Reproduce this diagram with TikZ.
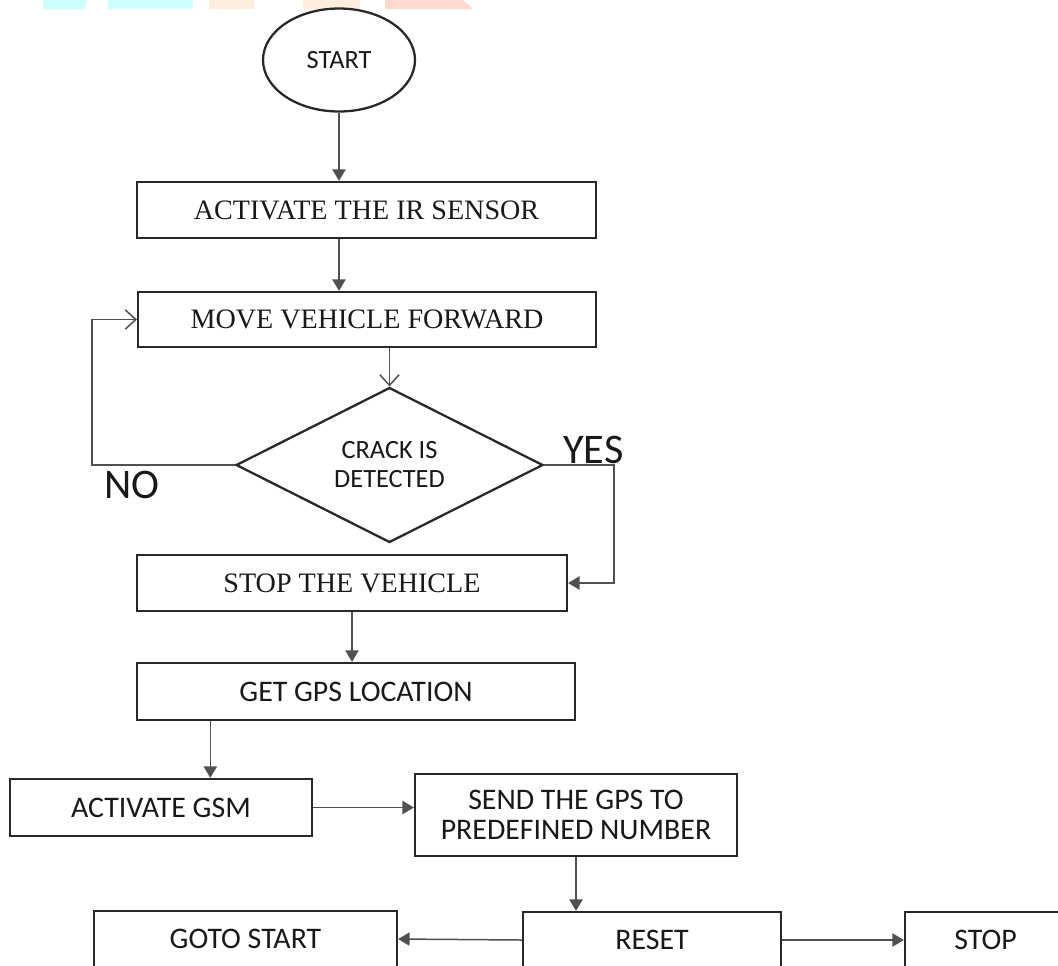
\documentclass[tikz,border=0pt]{standalone}
\usepackage{fontspec}
\setmainfont{Liberation Serif}
\newfontfamily\boxsans{Carlito}
\usetikzlibrary{shapes.geometric}
\usetikzlibrary{arrows.meta}
\usetikzlibrary{calc}

\definecolor{barcyan}{RGB}{206,255,255}
\definecolor{barorange}{RGB}{255,238,222}
\definecolor{barred}{RGB}{255,216,208}
\definecolor{boxline}{RGB}{40,40,40}
\definecolor{flowline}{RGB}{80,80,80}
\definecolor{ink}{RGB}{25,25,25}

\tikzset{
  stepbox/.style={draw=boxline, line width=1.3pt, rectangle, inner sep=0pt, text=ink},
  serifbox/.style={stepbox, font=\fontsize{16}{18}\selectfont},
  sansbox/.style={stepbox, font=\boxsans\fontsize{17}{17}\selectfont, align=center},
  flow/.style={draw=flowline, line width=0.85pt, -{Triangle[length=6.5pt,width=7.5pt]}},
  openflow/.style={draw=flowline, line width=0.85pt, -{Straight Barb[length=6pt,width=11pt]}},
  answer/.style={text=ink, inner sep=0pt, font=\boxsans\fontsize{24}{24}\selectfont}
}

\begin{document}
\begin{tikzpicture}[x=0.02cm, y=-0.02cm]
    \useasboundingbox (0,0) rectangle (1058,965);
    \clip (0,0) rectangle (1058,965);

    % strip left over from the page header
    \fill[barcyan] (43,0) -- (87,0) -- (85,9) -- (43,9) -- cycle;
    \fill[barcyan] (108,0) rectangle (193,9);
    \fill[barorange] (209,0) rectangle (254,9);
    \fill[barorange] (303,0) rectangle (360,9);
    \fill[barred] (385,0) -- (463,0) -- (473,9) -- (385,9) -- cycle;

    \node[draw=boxline, line width=1.3pt, ellipse, minimum width=3.04cm, minimum height=2.06cm, inner sep=0pt, text=ink, font=\boxsans\fontsize{15}{17}\selectfont] (start) at (339,60) {START};
    \node[serifbox, minimum width=9.18cm, minimum height=1.12cm] (irsensor) at (366.5,210) {ACTIVATE THE IR SENSOR};
    \node[serifbox, minimum width=9.16cm, minimum height=1.1cm] (forward) at (367,319.5) {MOVE VEHICLE FORWARD};
    \node[draw=boxline, line width=1.3pt, diamond, aspect=2, minimum width=6.14cm, minimum height=3.1cm, inner sep=0pt, text=ink, align=center, font=\boxsans\fontsize{15}{16.5}\selectfont] (crack) at (389.5,465) {CRACK IS\\DETECTED};
    \node[serifbox, minimum width=8.6cm, minimum height=1.12cm] (stopveh) at (352,583) {STOP THE VEHICLE};
    \node[sansbox, minimum width=8.76cm, minimum height=1.14cm] (gps) at (356,691.5) {GET GPS LOCATION};
    \node[sansbox, minimum width=6.04cm, minimum height=1.14cm] (gsm) at (161,807.5) {ACTIVATE GSM};
    \node[sansbox, minimum width=6.44cm, minimum height=1.64cm] (send) at (576,815) {SEND THE GPS TO\\PREDEFINED NUMBER};
    \node[sansbox, minimum width=6.06cm, minimum height=1.12cm] (gotostart) at (245.5,939) {GOTO START};
    \node[sansbox, minimum width=5.16cm, minimum height=1.12cm] (reset) at (652,940) {RESET};
    \node[sansbox, minimum width=3.22cm, minimum height=1.12cm] (stop) at (985.5,940) {STOP};

    \node[answer] (no) at (132,485) {NO};
    \node[answer] (yes) at (593.5,449.5) {YES};

    \draw[flow] (start) -- (start |- irsensor.north);
    \draw[flow] (start |- irsensor.south) -- (start |- forward.north);
    \draw[openflow] (crack.north |- forward.south) -- (crack.north);
    \draw[openflow] (crack.west) -- ++(-143,0) |- (forward.west);
    \draw[flow] (crack.east) -- ++(70,0) |- (stopveh.east);
    \draw[flow] (stopveh) -- (stopveh |- gps.north);
    \coordinate (gsmin) at ($(gsm.north west)!0.662!(gsm.north east)$);
    \draw[flow] (gps.south -| gsmin) -- (gsmin);
    \draw[flow] (gsm.east) -- (gsm.east -| send.west);
    \draw[flow] (send) -- (send |- reset.north);
    \draw[flow] (reset.west) -- (gotostart.east);
    \draw[flow] (reset.east) -- (stop.west);
\end{tikzpicture}
\end{document}
